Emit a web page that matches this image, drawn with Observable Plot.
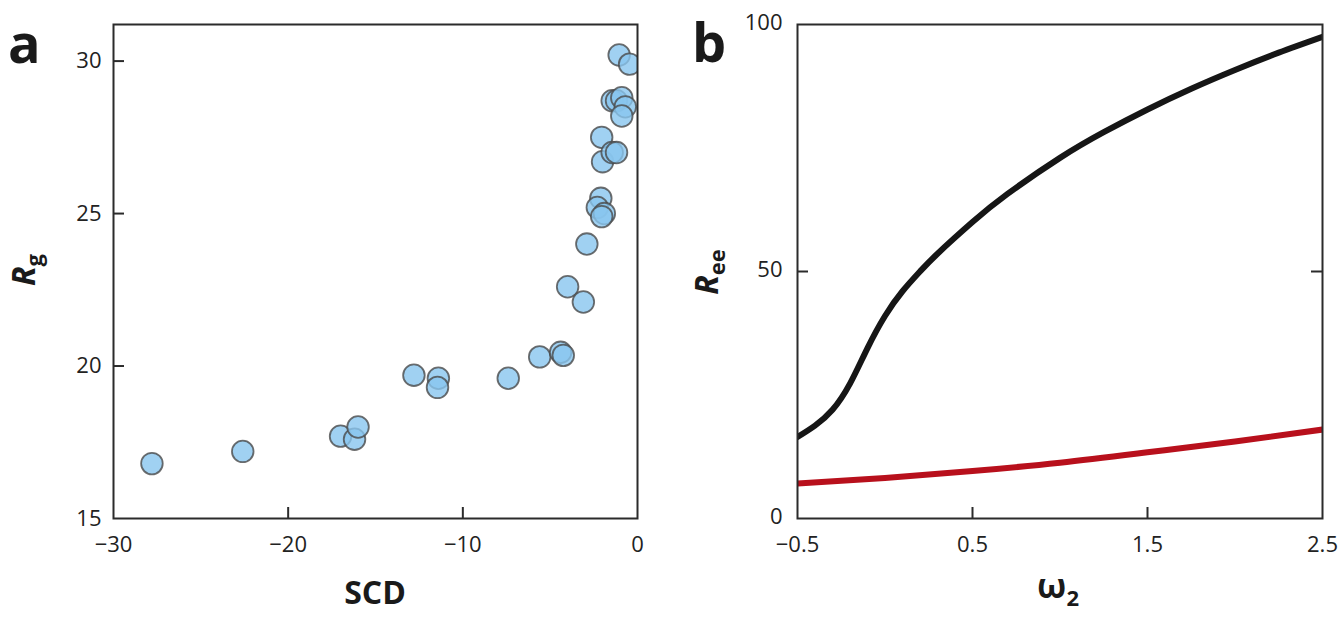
<!DOCTYPE html>
<html>
<head>
<meta charset="utf-8">
<script src="https://cdn.jsdelivr.net/npm/d3@7"></script>
<script src="https://cdn.jsdelivr.net/npm/@observablehq/plot@0.6"></script>
<style>
  html, body { margin: 0; padding: 0; background: #fff; }
  #wrap { position: relative; width: 1342px; height: 618px; overflow: hidden; font-family: "Open Sans", sans-serif; }
  #pa, #pb, #ov { position: absolute; top: 0; }
  #pa { left: 0; }
  #pb { left: 660px; }
  #ov { left: 0; pointer-events: none; }
</style>
</head>
<body>
<div id="wrap">
  <div id="pa"></div>
  <div id="pb"></div>
  <svg id="ov" width="1342" height="618" xmlns="http://www.w3.org/2000/svg"></svg>
</div>
<script>
// ---------- Panel a data ----------
const scd = [-27.8, -22.6, -17.0, -16.2, -16.0, -12.8, -11.4, -11.45, -7.4, -5.6,
             -4.4, -4.25, -4.0, -3.1, -2.9, -2.1, -2.3, -1.9, -2.05, -2.0,
             -2.05, -1.45, -1.2, -1.45, -1.2, -0.9, -0.7, -0.9, -1.05, -0.45];
const rg  = [16.8, 17.2, 17.7, 17.6, 18.0, 19.7, 19.6, 19.3, 19.6, 20.3,
             20.45, 20.35, 22.6, 22.1, 24.0, 25.5, 25.2, 25.0, 24.9, 26.7,
             27.5, 27.0, 27.0, 28.7, 28.7, 28.8, 28.5, 28.2, 30.2, 29.9];
const aXTicks = [-30, -20, -10, 0];
const aYTicks = [15, 20, 25, 30];
const aXInner = [-20, -10];
const aYInner = [20, 25, 30];

// ---------- Panel b data ----------
const omega = [-0.5, -0.4, -0.3, -0.2, -0.1, 0.0, 0.1, 0.2, 0.3, 0.5, 0.7, 1.0, 1.25, 1.5, 1.75, 2.0, 2.25, 2.5];
const reeBlack = [16.5, 18.8, 22.0, 27.3, 34.5, 41.0, 46.0, 50.0, 53.6, 60.0, 65.7, 73.0, 78.2, 82.8, 87.0, 90.8, 94.3, 97.5];
const omegaRed = [-0.5, 0.0, 0.5, 1.0, 1.5, 2.0, 2.5];
const reeRed = [7.1, 8.2, 9.6, 11.3, 13.4, 15.6, 18.0];
const bXTicks = [-0.5, 0.5, 1.5, 2.5];
const bYTicks = [0, 50, 100];
const bXInner = [0.5, 1.5];
const bYInner = [50];

const fmtMinus = d => d < 0 ? "\u2212" + String(Math.abs(d)) : String(d);

const W = 1342, H = 618;
const mTop = 24, mBottom = 100;
const plotH = H - mTop - mBottom;
const tickLen = 11;
const frameColor = "#2b2b2b";
const baseStyle = {fontFamily: "'Open Sans', sans-serif", fontSize: "22px", color: "#222", background: "transparent", overflow: "visible"};

// ---------- Panel a ----------
const aW = 660, aML = 113, aMR = 23;
const aPlotW = aW - aML - aMR;
const ptsA = scd.map((x, i) => ({x, y: rg[i]}));
const plotA = Plot.plot({
  width: aW, height: H,
  marginLeft: aML, marginRight: aMR, marginTop: mTop, marginBottom: mBottom,
  style: baseStyle,
  x: {domain: [-30, 0], axis: null},
  y: {domain: [15, 31.2], axis: null},
  marks: [
    Plot.dot(ptsA, {x: "x", y: "y", r: 10.8, fill: "#88c6ef", fillOpacity: 0.8, stroke: "#4a4a4a", strokeOpacity: 0.8, strokeWidth: 1.8, clip: true}),
    Plot.frame({stroke: frameColor, strokeWidth: 2}),
    Plot.tickX(aXInner, {x: d => d, insetTop: plotH - tickLen, stroke: frameColor, strokeWidth: 2}),
    Plot.tickY(aYInner, {y: d => d, insetRight: aPlotW - tickLen, stroke: frameColor, strokeWidth: 2}),
    Plot.text(aXTicks, {x: d => d, frameAnchor: "bottom", dy: 33, text: fmtMinus, fill: "#222"}),
    Plot.text(aYTicks, {y: d => d, frameAnchor: "left", dx: -12, textAnchor: "end", text: fmtMinus, fill: "#222"})
  ]
});
document.getElementById("pa").appendChild(plotA);

// ---------- Panel b ----------
const bW = 682, bML = 137, bMR = 20;
const bPlotW = bW - bML - bMR;
const lineBlack = omega.map((x, i) => ({x, y: reeBlack[i]}));
const lineRed = omegaRed.map((x, i) => ({x, y: reeRed[i]}));
const plotB = Plot.plot({
  width: bW, height: H,
  marginLeft: bML, marginRight: bMR, marginTop: mTop, marginBottom: mBottom,
  style: baseStyle,
  x: {domain: [-0.5, 2.5], axis: null},
  y: {domain: [0, 100], axis: null},
  marks: [
    Plot.line(lineRed, {x: "x", y: "y", stroke: "#b8101c", strokeWidth: 6, curve: "natural", clip: true}),
    Plot.line(lineBlack, {x: "x", y: "y", stroke: "#161616", strokeWidth: 6, curve: "natural", clip: true}),
    Plot.frame({stroke: frameColor, strokeWidth: 2}),
    Plot.tickX(bXInner, {x: d => d, insetTop: plotH - tickLen, stroke: frameColor, strokeWidth: 2}),
    Plot.tickY(bYInner, {y: d => d, insetRight: bPlotW - tickLen, stroke: frameColor, strokeWidth: 2}),
    Plot.tickY(bYInner, {y: d => d, insetLeft: bPlotW - tickLen, stroke: frameColor, strokeWidth: 2}),
    Plot.text(bXTicks, {x: d => d, frameAnchor: "bottom", dy: 33, text: fmtMinus, fill: "#222"}),
    Plot.text(bYTicks, {y: d => d, frameAnchor: "left", dx: -15, dy: -2, textAnchor: "end", text: fmtMinus, fill: "#222"})
  ]
});
document.getElementById("pb").appendChild(plotB);

// ---------- Titles / panel letters (real SVG text) ----------
const ov = d3.select("#ov").style("font-family", "'Open Sans', sans-serif").attr("fill", "#1a1a1a");
ov.append("text").attr("x", 8).attr("y", 63).attr("font-size", 54).attr("font-weight", 700).text("a");
ov.append("text").attr("x", 692).attr("y", 62).attr("font-size", 54).attr("font-weight", 700).text("b");

ov.append("text").attr("x", 375).attr("y", 604).attr("text-anchor", "middle")
  .attr("font-size", 32).attr("font-weight", 700).text("SCD");

const om = ov.append("text").attr("x", 1058).attr("y", 598).attr("text-anchor", "middle")
  .attr("font-size", 34).attr("font-weight", 700);
om.append("tspan").text("ω");
om.append("tspan").attr("font-size", 22).attr("dy", 8).text("2");

const rgT = ov.append("text").attr("transform", "translate(35,270) rotate(-90)").attr("text-anchor", "middle")
  .attr("font-size", 32).attr("font-weight", 700);
rgT.append("tspan").attr("font-style", "italic").text("R");
rgT.append("tspan").attr("font-size", 22).attr("dy", 7).text("g");

const reeT = ov.append("text").attr("transform", "translate(718,272) rotate(-90)").attr("text-anchor", "middle")
  .attr("font-size", 32).attr("font-weight", 700);
reeT.append("tspan").attr("font-style", "italic").text("R");
reeT.append("tspan").attr("font-size", 22).attr("dy", 7).text("ee");
</script>
</body>
</html>
